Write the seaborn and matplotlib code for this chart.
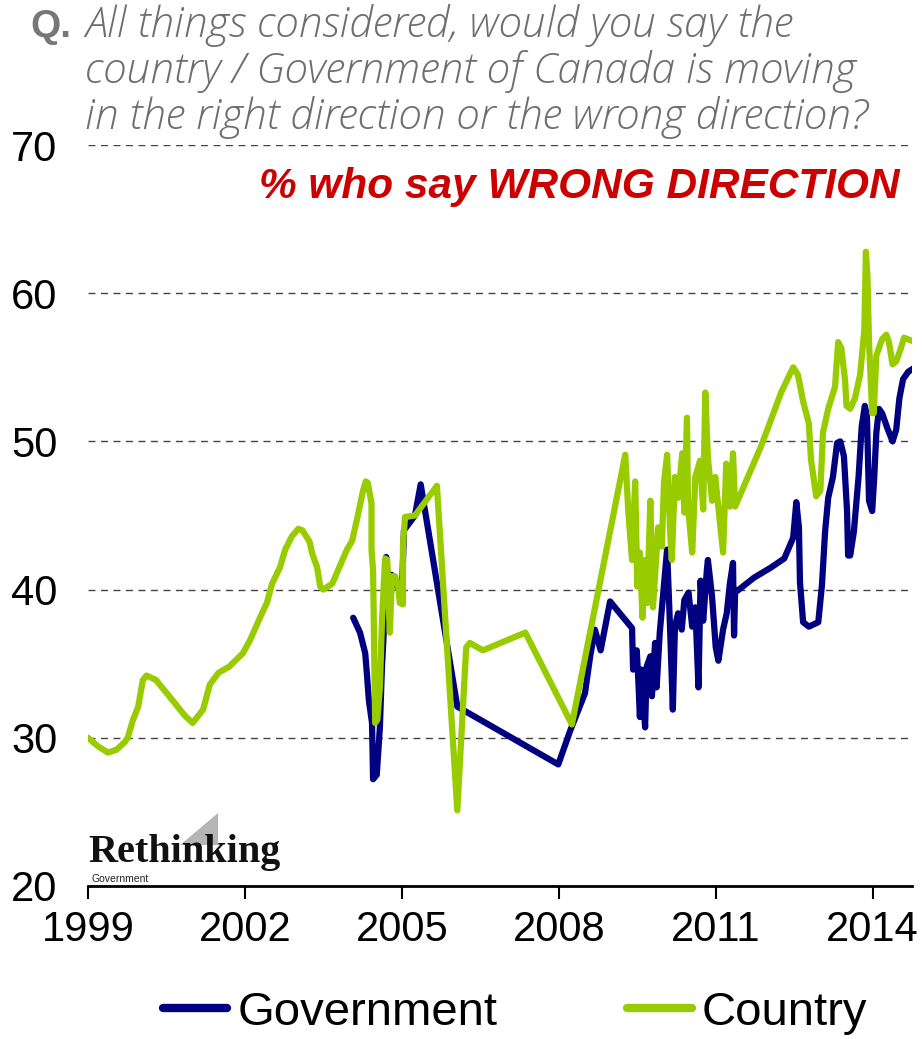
import matplotlib
matplotlib.use("Agg")
import matplotlib.pyplot as plt
from matplotlib.lines import Line2D
from matplotlib.patches import Polygon
import pandas as pd
import seaborn as sns

# Government: % who say wrong direction
gov_year = [2004.07, 2004.2, 2004.3, 2004.33, 2004.37, 2004.43, 2004.45, 2004.52, 2004.58, 2004.62,
            2004.66, 2004.7, 2004.74, 2004.8, 2004.9, 2005.0, 2005.04, 2005.25, 2005.36, 2006.06,
            2007.99, 2008.22, 2008.5, 2008.6, 2008.69, 2008.8, 2008.98, 2009.4, 2009.42, 2009.49,
            2009.52, 2009.55, 2009.58, 2009.65, 2009.68, 2009.75, 2009.78, 2009.84, 2009.87, 2009.93,
            2009.99, 2010.07, 2010.13, 2010.18, 2010.22, 2010.28, 2010.35, 2010.4, 2010.48, 2010.55,
            2010.61, 2010.67, 2010.71, 2010.76, 2010.83, 2010.85, 2010.93, 2011.0, 2011.05, 2011.14,
            2011.21, 2011.27, 2011.33, 2011.35, 2011.37, 2011.73, 2012.06, 2012.31, 2012.48, 2012.54,
            2012.59, 2012.61, 2012.67, 2012.78, 2012.96, 2013.03, 2013.09, 2013.15, 2013.24, 2013.32,
            2013.38, 2013.45, 2013.51, 2013.53, 2013.57, 2013.64, 2013.73, 2013.79, 2013.85, 2013.89,
            2013.93, 2013.99, 2014.03, 2014.07, 2014.12, 2014.18, 2014.29, 2014.38, 2014.45, 2014.51,
            2014.58, 2014.68, 2014.81]
gov_pct = [38.1, 37.1, 35.7, 34.4, 32.5, 31.0, 27.2, 27.5, 30.7, 34.8,
           37.5, 42.2, 40.5, 41.0, 40.3, 39.5, 44.0, 45.0, 47.1, 32.1,
           28.2, 30.5, 33.0, 35.5, 37.3, 35.9, 39.2, 37.4, 34.6, 35.9,
           33.9, 31.4, 34.6, 30.7, 34.8, 35.5, 32.8, 36.4, 33.4, 37.1,
           39.5, 42.7, 37.1, 31.9, 37.5, 38.4, 37.3, 39.3, 39.8, 37.5,
           38.8, 33.4, 40.6, 37.9, 41.3, 42.0, 39.5, 36.1, 35.2, 37.3,
           38.4, 40.4, 41.8, 36.9, 39.8, 40.8, 41.5, 42.1, 43.5, 45.9,
           44.2, 40.5, 37.8, 37.5, 37.8, 40.3, 43.9, 46.2, 47.6, 49.9,
           50.0, 49.0, 45.3, 42.3, 42.3, 43.9, 47.6, 51.0, 52.4, 51.7,
           46.0, 45.3, 47.6, 50.6, 52.2, 51.9, 50.8, 50.0, 50.8, 52.9,
           54.2, 54.7, 55.0]

# Country: % who say wrong direction
country_year = [1999.0, 1999.2, 1999.38, 1999.55, 1999.7, 1999.76, 1999.86, 1999.96, 2000.05, 2000.12,
                2000.3, 2000.6, 2000.85, 2001.0, 2001.2, 2001.33, 2001.5, 2001.7, 2001.96, 2002.1,
                2002.3, 2002.42, 2002.52, 2002.67, 2002.77, 2002.9, 2003.02, 2003.1, 2003.24, 2003.28,
                2003.38, 2003.44, 2003.5, 2003.67, 2003.78, 2003.95, 2004.05, 2004.14, 2004.26, 2004.31,
                2004.35, 2004.42, 2004.42, 2004.45, 2004.49, 2004.53, 2004.58, 2004.62, 2004.68, 2004.72,
                2004.74, 2004.77, 2004.81, 2004.87, 2004.93, 2004.96, 2005.02, 2005.02, 2005.06, 2005.25,
                2005.67, 2006.06, 2006.23, 2006.3, 2006.55, 2007.36, 2008.25, 2009.27, 2009.33, 2009.4,
                2009.46, 2009.5, 2009.55, 2009.6, 2009.65, 2009.69, 2009.75, 2009.8, 2009.9, 2009.97,
                2010.01, 2010.07, 2010.13, 2010.16, 2010.22, 2010.28, 2010.36, 2010.4, 2010.45, 2010.47,
                2010.55, 2010.61, 2010.7, 2010.76, 2010.8, 2010.85, 2010.93, 2010.99, 2011.09, 2011.14,
                2011.2, 2011.27, 2011.33, 2011.37, 2011.87, 2012.25, 2012.48, 2012.57, 2012.67, 2012.78,
                2012.82, 2012.92, 2013.0, 2013.05, 2013.15, 2013.28, 2013.34, 2013.4, 2013.47, 2013.5,
                2013.57, 2013.66, 2013.76, 2013.84, 2013.87, 2013.9, 2013.93, 2013.99, 2014.02, 2014.07,
                2014.09, 2014.18, 2014.26, 2014.31, 2014.38, 2014.45, 2014.54, 2014.6, 2014.74, 2014.83]
country_pct = [30.0, 29.4, 29.0, 29.2, 29.7, 30.0, 31.2, 32.1, 33.9, 34.2,
               33.9, 32.6, 31.5, 31.0, 31.9, 33.6, 34.4, 34.8, 35.7, 36.6,
               38.2, 39.1, 40.4, 41.5, 42.7, 43.6, 44.1, 44.0, 43.2, 42.5,
               41.5, 40.2, 40.0, 40.4, 41.3, 42.7, 43.3, 44.7, 46.7, 47.3,
               47.2, 45.8, 42.7, 41.3, 31.0, 31.2, 33.4, 37.9, 42.1, 42.0,
               40.0, 37.1, 40.9, 40.9, 40.2, 39.1, 39.0, 42.9, 44.9, 45.0,
               47.0, 25.1, 36.1, 36.4, 35.9, 37.1, 30.9, 49.1, 45.2, 42.0,
               47.3, 40.2, 42.5, 38.1, 42.0, 39.1, 46.0, 38.8, 44.2, 42.9,
               47.2, 49.1, 43.8, 42.0, 47.6, 46.2, 49.2, 45.2, 51.6, 45.6,
               42.5, 47.6, 48.7, 45.4, 53.3, 48.9, 46.0, 47.6, 44.2, 42.5,
               48.5, 45.6, 49.2, 45.6, 49.7, 53.3, 55.0, 54.5, 52.7, 51.2,
               48.8, 46.3, 46.7, 50.6, 52.2, 53.7, 56.7, 56.3, 54.2, 52.4,
               52.2, 52.9, 54.5, 57.5, 62.8, 61.1, 56.7, 51.9, 51.9, 55.8,
               56.0, 56.9, 57.2, 56.7, 55.2, 55.4, 56.3, 57.0, 56.8, 56.7]

series_names = ["Government", "Country"]
series_colors = ["#000080", "#99cc00"]
year_ticks = [1999, 2002, 2005, 2008, 2011, 2014]
pct_ticks = [20, 30, 40, 50, 60, 70]

df = pd.concat([
    pd.DataFrame({"year": gov_year, "pct": gov_pct, "series": "Government"}),
    pd.DataFrame({"year": country_year, "pct": country_pct, "series": "Country"}),
], ignore_index=True)

sns.set_style("white")
plt.rcParams["font.family"] = ["Liberation Sans", "DejaVu Sans"]
plt.rcParams["text.color"] = "black"
plt.rcParams["xtick.color"] = "black"
plt.rcParams["ytick.color"] = "black"

fig = plt.figure(figsize=(9.23, 10.39), dpi=100)
ax = fig.add_axes([0.0953, 0.1473, 0.8927, 0.7131])

sns.lineplot(data=df, x="year", y="pct", hue="series", hue_order=series_names,
             palette=dict(zip(series_names, series_colors)), estimator=None, sort=False,
             lw=4.5, solid_joinstyle="round", solid_capstyle="round", legend=False, ax=ax)

ax.set_xlim(1999, 2014.75)
ax.set_ylim(20, 70)
ax.set_xticks(year_ticks)
ax.set_yticks(pct_ticks)
ax.set_xlabel("")
ax.set_ylabel("")
ax.tick_params(axis="x", direction="out", length=9, width=1.5, color="black",
               labelcolor="black", labelsize=30, pad=8, bottom=True)
ax.tick_params(axis="y", length=0, labelsize=30, labelcolor="black", pad=22)
for s in ["top", "right", "left"]:
    ax.spines[s].set_visible(False)
ax.spines["bottom"].set_color("black")
ax.spines["bottom"].set_linewidth(2)
ax.yaxis.grid(True, color="#444444", linestyle=(0, (5, 4)), linewidth=1.0)
ax.xaxis.grid(False)
ax.set_axisbelow(True)

# question text
fig.text(30 / 923, 1 - 37 / 1039, "Q.", fontsize=28, fontweight="bold", color="#777777",
         va="baseline", ha="left")
q_lines = ["All things considered, would you say the",
           "country / Government of Canada is moving",
           "in the right direction or the wrong direction?"]
for i, line in enumerate(q_lines):
    fig.text(85 / 923, 1 - (37 + 46 * i) / 1039, line, fontsize=30.5, fontstyle="italic",
             family=["Open Sans", "DejaVu Sans"], fontweight="light", color="#6e6e6e",
             va="baseline", ha="left")

fig.text(900 / 923, 1 - 198 / 1039, "% who say WRONG DIRECTION", fontsize=30.5,
         fontweight="bold", fontstyle="italic", color="#cc0000", va="baseline", ha="right")

# Rethinking Government logo
fig.patches.append(Polygon([(180 / 923, 1 - 845 / 1039), (218 / 923, 1 - 813 / 1039),
                            (218 / 923, 1 - 845 / 1039)], closed=True, transform=fig.transFigure,
                           facecolor="#b5b5b5", edgecolor="none", zorder=0))
fig.text(88 / 923, 1 - 862 / 1039, "Rethinking", fontsize=29, fontweight="bold",
         family=["Liberation Serif", "DejaVu Serif"], color="#111111", va="baseline", ha="left")
fig.text(92 / 923, 1 - 882 / 1039, "Government", fontsize=7.5, color="#222222",
         va="baseline", ha="left")

handles = [Line2D([0], [0], color=c, lw=6, solid_capstyle="round") for c in series_colors]
fig.legend(handles, series_names, loc="center", bbox_to_anchor=(0.558, 1 - 1013 / 1039),
           ncol=2, frameon=False, fontsize=34, handlelength=1.37, handletextpad=0.21,
           columnspacing=2.75, borderpad=0, borderaxespad=0, labelcolor="black")

fig.savefig("out.png", dpi=100)
